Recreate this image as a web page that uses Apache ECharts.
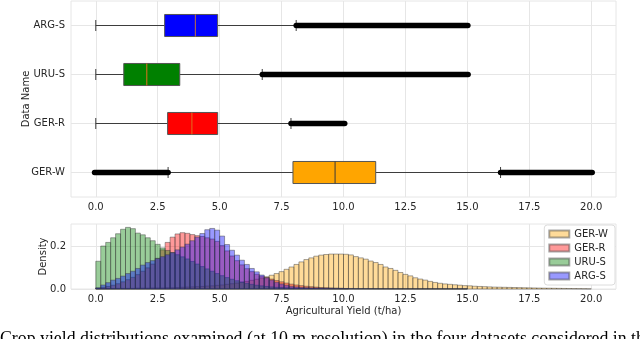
<!DOCTYPE html>
<html>
<head>
<meta charset="utf-8">
<script src="https://cdn.jsdelivr.net/npm/echarts@6/dist/echarts.min.js"></script>
<style>
  html, body { margin: 0; padding: 0; background: #fff; }
  #chart { width: 640px; height: 339px; }
</style>
</head>
<body>
<div id="chart"></div>
<script>
// box plot panel, top to bottom
const names = ['ARG-S', 'URU-S', 'GER-R', 'GER-W'];
// [lower whisker, Q1, median, Q3, upper whisker]
const boxStats = [
  [0.0, 2.78, 4.02, 4.92, 8.09],
  [0.0, 1.13, 2.06, 3.39, 6.72],
  [0.0, 2.90, 3.88, 4.92, 7.88],
  [2.92, 7.96, 9.66, 11.30, 16.34]
];
// outlier runs: [row, from, to]
const outlierRuns = [
  [0, 8.09, 15.02],
  [1, 6.72, 15.03],
  [2, 7.88, 10.05],
  [3, -0.05, 2.92],
  [3, 16.34, 20.04]
];
const xTicks = [0, 2.5, 5, 7.5, 10, 12.5, 15, 17.5, 20];
const densityTicks = [0, 0.2];

// histograms, bins of 0.2 starting at 0 (100 bins up to 20)
const binStart = 0;
const binWidth = 0.2;
const histGERW = [
  0.002, 0.002, 0.002, 0.002, 0.003, 0.003, 0.003, 0.003, 0.004, 0.004,
  0.004, 0.005, 0.005, 0.005, 0.006, 0.006, 0.007, 0.008, 0.009, 0.010,
  0.011, 0.012, 0.014, 0.015, 0.017, 0.019, 0.022, 0.025, 0.028, 0.032,
  0.036, 0.041, 0.046, 0.052, 0.058, 0.065, 0.073, 0.082, 0.093, 0.104,
  0.116, 0.128, 0.139, 0.147, 0.155, 0.160, 0.163, 0.165, 0.165, 0.165,
  0.164, 0.161, 0.153, 0.147, 0.141, 0.132, 0.125, 0.116, 0.104, 0.097,
  0.088, 0.078, 0.069, 0.062, 0.053, 0.047, 0.042, 0.036, 0.031, 0.027,
  0.024, 0.022, 0.020, 0.018, 0.016, 0.015, 0.013, 0.012, 0.011, 0.010,
  0.009, 0.0085, 0.008, 0.0075, 0.007, 0.0065, 0.006, 0.0055, 0.005, 0.0045,
  0.004, 0.0037, 0.0034, 0.003, 0.0027, 0.0024, 0.002, 0.0017, 0.0014, 0.001
];
const histGERR = [
  0.004, 0.008, 0.012, 0.018, 0.025, 0.034, 0.044, 0.055, 0.068, 0.084,
  0.100, 0.118, 0.145, 0.185, 0.220, 0.245, 0.260, 0.266, 0.263, 0.257,
  0.252, 0.248, 0.242, 0.236, 0.225, 0.205, 0.180, 0.156, 0.134, 0.114,
  0.096, 0.082, 0.070, 0.061, 0.054, 0.047, 0.040, 0.034, 0.028, 0.023,
  0.019, 0.016, 0.013, 0.011, 0.009, 0.007, 0.006, 0.005, 0.004, 0.003,
  0.002
];
const histURUS = [
  0.131, 0.203, 0.220, 0.242, 0.261, 0.282, 0.291, 0.285, 0.264, 0.256,
  0.242, 0.228, 0.211, 0.194, 0.182, 0.172, 0.162, 0.152, 0.142, 0.130,
  0.118, 0.106, 0.095, 0.084, 0.073, 0.063, 0.054, 0.046, 0.039, 0.033,
  0.027, 0.022, 0.018, 0.015, 0.012, 0.010, 0.008, 0.007, 0.006, 0.005,
  0.004, 0.0035, 0.003, 0.003, 0.0025, 0.0025, 0.002, 0.002, 0.002, 0.0018,
  0.0017, 0.0016, 0.0016, 0.0015, 0.0015, 0.0014, 0.0014, 0.0013, 0.0013, 0.0012,
  0.0012, 0.0012, 0.0011, 0.0011, 0.0011, 0.001, 0.001, 0.001, 0.001, 0.001,
  0.001, 0.001, 0.001, 0.001, 0.001
];
const histARGS = [
  0.006, 0.019, 0.030, 0.042, 0.050, 0.061, 0.073, 0.084, 0.097, 0.113,
  0.125, 0.134, 0.144, 0.153, 0.162, 0.172, 0.185, 0.198, 0.212, 0.228,
  0.245, 0.262, 0.280, 0.286, 0.278, 0.250, 0.210, 0.183, 0.160, 0.136,
  0.116, 0.097, 0.081, 0.066, 0.053, 0.042, 0.032, 0.024, 0.018, 0.013,
  0.010, 0.008, 0.0065, 0.0055, 0.005, 0.0045, 0.004, 0.0035, 0.003, 0.003,
  0.0025, 0.0025, 0.002, 0.002, 0.002, 0.0018, 0.0017, 0.0016, 0.0015, 0.0014,
  0.0013, 0.0012, 0.0012, 0.0011, 0.0011, 0.001, 0.001, 0.001, 0.001, 0.001,
  0.001, 0.001, 0.001, 0.001, 0.001
];

const caption = 'Crop yield distributions examined (at 10 m resolution) in the four datasets considered in this study';

const boxColors = { 'ARG-S': '#0000ff', 'URU-S': '#008000', 'GER-R': '#ff0000', 'GER-W': '#ffa500' };
const medianColors = { 'ARG-S': '#c0703a', 'URU-S': '#e07020', 'GER-R': '#e07020', 'GER-W': '#3a3a3a' };
const histColors = {
  'GER-W': 'rgba(255,165,0,0.4)',
  'GER-R': 'rgba(255,0,0,0.4)',
  'URU-S': 'rgba(0,128,0,0.4)',
  'ARG-S': 'rgba(0,0,255,0.4)'
};
const textColor = '#262626';
const gridColor = '#e6e6e6';
const font = 'DejaVu Sans';

const chart = echarts.init(document.getElementById('chart'));

function xAxisCommon(gridIndex, showName) {
  return {
    type: 'value', gridIndex: gridIndex, min: -1, max: 21,
    axisLine: { show: false },
    axisTick: { show: true, length: 0, customValues: xTicks, lineStyle: { color: 'transparent' } },
    axisLabel: { customValues: xTicks, formatter: v => v.toFixed(1), color: textColor, fontSize: 10, fontFamily: font, margin: 5 },
    splitLine: { show: true, lineStyle: { color: gridColor, width: 1 } },
    name: showName ? 'Agricultural Yield (t/ha)' : '',
    nameLocation: 'middle', nameGap: 17, nameMoveOverlap: false,
    nameTextStyle: { color: textColor, fontSize: 10, fontFamily: font }
  };
}

function histSeries(name, values) {
  return {
    name: name,
    type: 'custom',
    xAxisIndex: 1, yAxisIndex: 1,
    itemStyle: { color: histColors[name], borderColor: 'rgba(60,60,60,0.45)', borderWidth: 1 },
    data: values.map((v, i) => [binStart + i * binWidth, binStart + (i + 1) * binWidth, v]),
    renderItem: function (params, api) {
      const p0 = api.coord([api.value(0), api.value(2)]);
      const p1 = api.coord([api.value(1), 0]);
      return {
        type: 'rect',
        shape: { x: p0[0], y: p0[1], width: p1[0] - p0[0], height: p1[1] - p0[1] },
        style: { fill: histColors[name], stroke: 'rgba(60,60,60,0.45)', lineWidth: 1 }
      };
    }
  };
}

chart.setOption({
  animation: false,
  grid: [
    { left: 71, right: 24, top: 1, height: 196, show: true, borderColor: gridColor, borderWidth: 1, backgroundColor: '#fff' },
    { left: 71, right: 24, top: 224, height: 65, show: true, borderColor: gridColor, borderWidth: 1, backgroundColor: '#fff' }
  ],
  xAxis: [xAxisCommon(0, false), xAxisCommon(1, true)],
  yAxis: [
    {
      type: 'value', gridIndex: 0, min: -0.5, max: 3.5, inverse: true,
      axisLine: { show: false },
      axisTick: { show: true, length: 0, customValues: [0, 1, 2, 3], lineStyle: { color: 'transparent' } },
      axisLabel: { customValues: [0, 1, 2, 3], formatter: v => names[v], color: textColor, fontSize: 10, fontFamily: font, margin: 6 },
      splitLine: { show: true, lineStyle: { color: gridColor, width: 1 } },
      name: 'Data Name', nameLocation: 'middle', nameGap: 40, nameMoveOverlap: false,
      nameTextStyle: { color: textColor, fontSize: 10, fontFamily: font }
    },
    {
      type: 'value', gridIndex: 1, min: 0, max: 0.307,
      axisLine: { show: false },
      axisTick: { show: true, length: 0, customValues: densityTicks, lineStyle: { color: 'transparent' } },
      axisLabel: { customValues: densityTicks, formatter: v => v.toFixed(1), color: textColor, fontSize: 10, fontFamily: font, margin: 5 },
      splitLine: { show: true, lineStyle: { color: gridColor, width: 1 } },
      name: 'Density', nameLocation: 'middle', nameGap: 23, nameMoveOverlap: false,
      nameTextStyle: { color: textColor, fontSize: 10, fontFamily: font }
    }
  ],
  legend: {
    data: ['GER-W', 'GER-R', 'URU-S', 'ARG-S'],
    orient: 'vertical', right: 25, top: 225,
    icon: 'rect', itemWidth: 20, itemHeight: 7, itemGap: 4,
    padding: [4, 7, 4, 4],
    backgroundColor: '#fff', borderColor: '#dcdcdc', borderWidth: 1, borderRadius: 3,
    textStyle: { color: textColor, fontSize: 10, fontFamily: font }
  },
  graphic: [{
    type: 'text', left: 0, top: 330,
    style: { text: caption, font: '17.8px "Liberation Serif"', fill: '#000' }
  }],
  series: [
    {
      type: 'custom', name: 'boxes', xAxisIndex: 0, yAxisIndex: 0,
      data: boxStats.map((s, i) => [i].concat(s)),
      renderItem: function (params, api) {
        const i = api.value(0);
        const y = api.coord([0, i])[1];
        const h = api.size([0, 1])[1] * 0.45;
        const xs = [1, 2, 3, 4, 5].map(k => api.coord([api.value(k), i])[0]);
        const name = names[i];
        const whisker = { stroke: '#3d3d3d', lineWidth: 1 };
        return {
          type: 'group',
          children: [
            { type: 'line', shape: { x1: xs[0], y1: y, x2: xs[1], y2: y }, style: whisker },
            { type: 'line', shape: { x1: xs[3], y1: y, x2: xs[4], y2: y }, style: whisker },
            { type: 'line', shape: { x1: xs[0], y1: y - h / 4, x2: xs[0], y2: y + h / 4 }, style: whisker },
            { type: 'line', shape: { x1: xs[4], y1: y - h / 4, x2: xs[4], y2: y + h / 4 }, style: whisker },
            { type: 'rect', shape: { x: xs[1], y: y - h / 2, width: xs[3] - xs[1], height: h },
              style: { fill: boxColors[name], stroke: '#555', lineWidth: 1 } },
            { type: 'line', shape: { x1: xs[2], y1: y - h / 2, x2: xs[2], y2: y + h / 2 },
              style: { stroke: medianColors[name], lineWidth: 1 } }
          ]
        };
      }
    },
    {
      type: 'custom', name: 'outliers', xAxisIndex: 0, yAxisIndex: 0,
      data: outlierRuns,
      renderItem: function (params, api) {
        const a = api.coord([api.value(1), api.value(0)]);
        const b = api.coord([api.value(2), api.value(0)]);
        return {
          type: 'line',
          shape: { x1: a[0], y1: a[1], x2: b[0], y2: b[1] },
          style: { stroke: '#000', lineWidth: 5.5, lineCap: 'round' }
        };
      }
    },
    histSeries('GER-W', histGERW),
    histSeries('GER-R', histGERR),
    histSeries('URU-S', histURUS),
    histSeries('ARG-S', histARGS)
  ]
});
</script>
</body>
</html>
